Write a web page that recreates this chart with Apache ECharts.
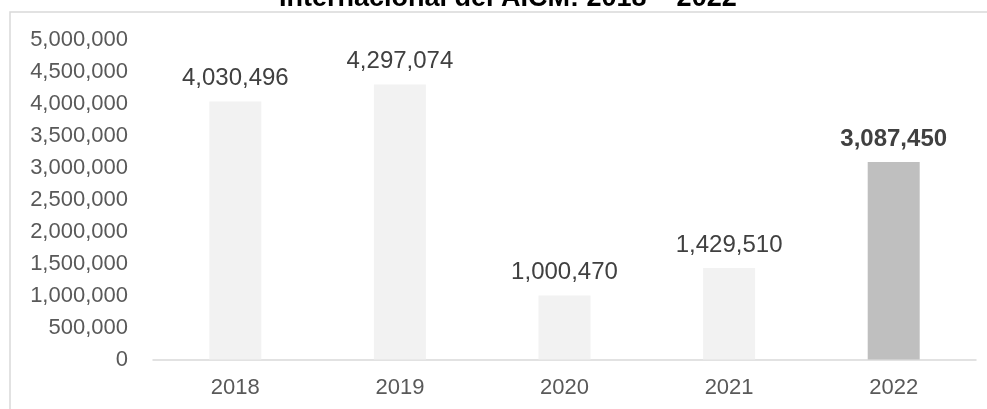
<!DOCTYPE html>
<html>
<head>
<meta charset="utf-8">
<script src="https://cdn.jsdelivr.net/npm/echarts@6/dist/echarts.min.js"></script>
<style>html,body{margin:0;padding:0;background:#fff;}#c{width:987px;height:409px;}</style>
</head>
<body>
<div id="c"></div>
<script>
const titleText = 'Internacional del AICM: 2018 – 2022';
const categories = ['2018', '2019', '2020', '2021', '2022'];
const values = [4030496, 4297074, 1000470, 1429510, 3087450];
const highlightIndex = 4;

const fmt = v => Number(v).toLocaleString('en-US');
const chart = echarts.init(document.getElementById('c'), null, {renderer: 'canvas'});
const data = values.map((v, i) => {
  const hi = i === highlightIndex;
  return {
    value: v,
    itemStyle: {color: hi ? '#BFBFBF' : '#F2F2F2'},
    label: {fontWeight: hi ? 'bold' : 'normal', color: '#404040'}
  };
});
chart.setOption({
  animation: false,
  title: {
    text: titleText, left: 274, top: -20,
    textStyle: {fontFamily: 'Liberation Sans, Arial, sans-serif', fontSize: 27, fontWeight: 'bold', color: '#000'}
  },
  graphic: [{
    type: 'rect', left: 7.5, top: 9.5, silent: true,
    shape: {x: 0, y: 0, width: 1000, height: 430},
    style: {fill: 'none', stroke: '#D9D9D9', lineWidth: 1.5}
  }],
  grid: {left: 153, right: 11, top: 39.5, bottom: 49.5},
  xAxis: {
    type: 'category', data: categories,
    axisLine: {lineStyle: {color: '#D9D9D9', width: 1.5}},
    axisTick: {show: false},
    axisLabel: {color: '#595959', fontSize: 22, fontFamily: 'Liberation Sans, Arial, sans-serif', margin: 17}
  },
  yAxis: {
    type: 'value', min: 0, max: 5000000, interval: 500000,
    axisLine: {show: false}, axisTick: {show: false}, splitLine: {show: false},
    axisLabel: {color: '#595959', fontSize: 22, fontFamily: 'Liberation Sans, Arial, sans-serif', margin: 25, formatter: fmt}
  },
  series: [{
    type: 'bar', data: data, barWidth: 52,
    label: {show: true, position: 'top', distance: 11, fontSize: 24,
      fontFamily: 'Liberation Sans, Arial, sans-serif', formatter: p => fmt(p.value)}
  }]
});
</script>
</body>
</html>
